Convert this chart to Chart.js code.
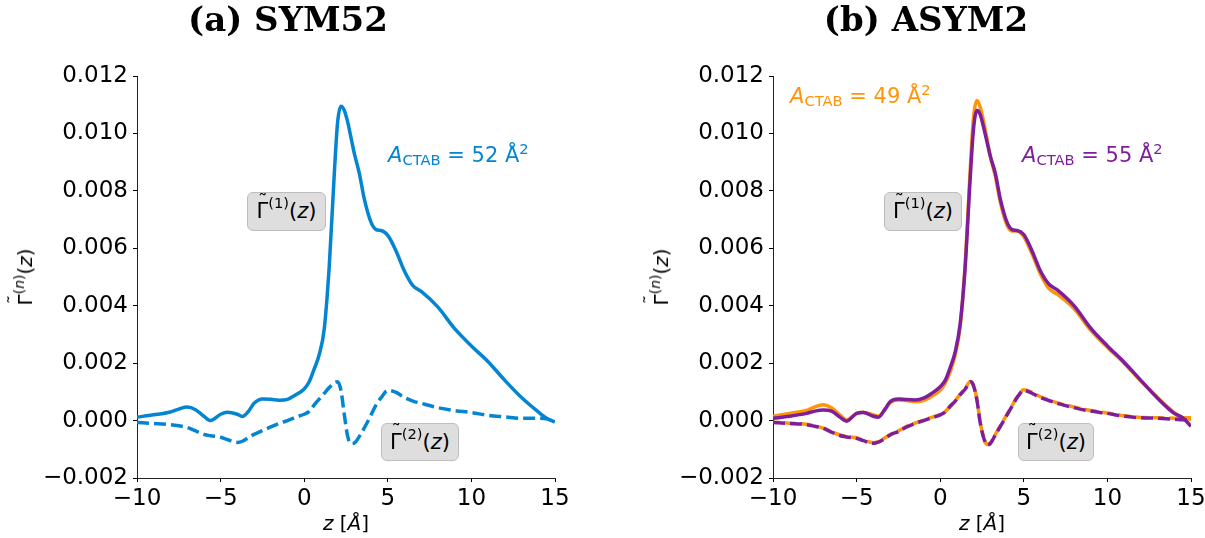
<!DOCTYPE html>
<html>
<head>
<meta charset="utf-8">
<script src="https://cdn.jsdelivr.net/npm/chart.js@4"></script>
<style>
  html, body { margin:0; padding:0; width:1205px; height:538px; overflow:hidden; background:#fff; }
  body { position:relative; font-family:"DejaVu Sans", sans-serif; color:#000; }
  .cv { position:absolute; top:0; }
  .txt { position:absolute; white-space:nowrap; line-height:1; font-family:"DejaVu Sans", sans-serif; }
  .title { position:absolute; top:2px; width:400px; text-align:center; font-family:"DejaVu Serif", serif; font-weight:bold; font-size:34px; line-height:1; }
  .box { position:absolute; box-sizing:border-box; background:#dedede; border:1px solid #bdbdbd; border-radius:6px;
         display:flex; align-items:center; justify-content:center; font-size:21px; line-height:1; white-space:nowrap; }
  .sp { font-size:0.7em; position:relative; top:-0.55em; line-height:0; }
  .sb { font-size:0.7em; position:relative; top:0.2em; line-height:0; }
  .gam { position:relative; display:inline-block; }
  .tl { position:absolute; left:0.08em; top:-0.5em; font-size:0.9em; line-height:1; }
  .ylab { position:absolute; font-size:20px; line-height:1; white-space:nowrap; transform:translate(-50%,-50%) rotate(-90deg); }
  .xlab { position:absolute; font-size:20px; line-height:1; white-space:nowrap; transform:translate(-50%,-50%); }
</style>
</head>
<body>
<canvas id="cA" class="cv" width="602" height="538" style="left:0px;width:602px;height:538px"></canvas>
<canvas id="cB" class="cv" width="640" height="538" style="left:602px;width:640px;height:538px"></canvas>

<div class="title" style="left:88px">(a) SYM52</div>
<div class="title" style="left:726px">(b) ASYM2</div>

<div class="ylab" style="left:25px;top:277px"><span class="gam">Γ<span class="tl">˜</span></span><span class="sp">(<i>n</i>)</span>(<i>z</i>)</div>
<div class="ylab" style="left:661px;top:277px"><span class="gam">Γ<span class="tl">˜</span></span><span class="sp">(<i>n</i>)</span>(<i>z</i>)</div>
<div class="xlab" style="left:346px;top:523px"><i>z</i> [<i>Å</i>]</div>
<div class="xlab" style="left:982px;top:523px"><i>z</i> [<i>Å</i>]</div>

<div class="txt" style="left:388px;top:145px;font-size:21px;color:#0485d1"><i>A</i><span class="sb">CTAB</span> = 52 Å<span class="sp">2</span></div>
<div class="txt" style="left:790px;top:86px;font-size:21px;color:#ff9408"><i>A</i><span class="sb">CTAB</span> = 49 Å<span class="sp">2</span></div>
<div class="txt" style="left:1022px;top:145px;font-size:21px;color:#7e1e9c"><i>A</i><span class="sb">CTAB</span> = 55 Å<span class="sp">2</span></div>

<div class="box" style="left:247px;top:192px;width:79px;height:39px"><span class="gam">Γ<span class="tl">˜</span></span><span class="sp">(1)</span>(<i>z</i>)</div>
<div class="box" style="left:381px;top:423px;width:78px;height:38px"><span class="gam">Γ<span class="tl">˜</span></span><span class="sp">(2)</span>(<i>z</i>)</div>
<div class="box" style="left:884px;top:192px;width:78px;height:39px"><span class="gam">Γ<span class="tl">˜</span></span><span class="sp">(1)</span>(<i>z</i>)</div>
<div class="box" style="left:1018px;top:423px;width:76px;height:38px"><span class="gam">Γ<span class="tl">˜</span></span><span class="sp">(2)</span>(<i>z</i>)</div>

<script>
// ---------- data ----------
const zGrid = [-10,-9,-8,-7.5,-7,-6.5,-6,-5.6,-5,-4.6,-4,-3.7,-3.3,-3,-2.5,-2,-1.5,-1,-0.5,0,
  0.3,0.6,0.9,1.2,1.5,1.8,2.0,2.2,2.4,2.6,2.8,3.0,3.3,3.6,4.0,4.3,4.6,5.0,5.5,6.0,6.5,7,8,9,10,11,12,13,14,14.5,15];

const sym52Gamma1 = [0.00012,0.00020,0.00030,0.00040,0.00047,0.00038,0.00015,0.00000,0.00022,0.00029,0.00022,0.00014,0.00035,0.00060,0.00075,0.00074,0.00071,0.00074,0.00090,0.00110,
  0.00135,0.00180,0.00230,0.00320,0.00540,0.00860,0.01040,0.01095,0.01080,0.01040,0.00985,0.00930,0.00860,0.00770,0.00690,0.00665,0.00662,0.00645,0.00590,0.00520,0.00470,0.00450,0.00395,0.00320,0.00260,0.00205,0.00140,0.00080,0.00030,0.00008,-0.00005];

const sym52Gamma2 = [-0.00007,-0.00010,-0.00014,-0.00018,-0.00024,-0.00036,-0.00048,-0.00053,-0.00058,-0.00066,-0.00076,-0.00072,-0.00058,-0.00048,-0.00035,-0.00022,-0.00010,0.00000,0.00012,0.00022,
  0.00032,0.00055,0.00075,0.00095,0.00115,0.00132,0.00135,0.00105,0.00020,-0.00055,-0.00080,-0.00078,-0.00055,-0.00025,0.00020,0.00055,0.00080,0.00105,0.00098,0.00080,0.00068,0.00060,0.00045,0.00035,0.00028,0.00018,0.00013,0.00008,0.00008,0.00006,-0.00005];

const asym2Gamma1A49 = [0.00015,0.00025,0.00035,0.00048,0.00055,0.00045,0.00020,0.00002,0.00025,0.00029,0.00020,0.00015,0.00038,0.00062,0.00072,0.00070,0.00066,0.00070,0.00085,0.00105,
  0.00130,0.00170,0.00230,0.00330,0.00550,0.00880,0.01060,0.01115,0.01090,0.01040,0.00980,0.00920,0.00850,0.00760,0.00680,0.00660,0.00660,0.00640,0.00580,0.00510,0.00460,0.00440,0.00390,0.00315,0.00255,0.00200,0.00138,0.00080,0.00028,0.00010,0.00010];

const asym2Gamma2A49 = [-0.00006,-0.00009,-0.00013,-0.00019,-0.00026,-0.00039,-0.00050,-0.00055,-0.00060,-0.00068,-0.00077,-0.00073,-0.00060,-0.00049,-0.00036,-0.00020,-0.00009,0.00001,0.00011,0.00021,
  0.00031,0.00051,0.00070,0.00092,0.00112,0.00136,0.00122,0.00072,-0.00008,-0.00058,-0.00083,-0.00078,-0.00048,-0.00018,0.00022,0.00052,0.00082,0.00107,0.00098,0.00083,0.00072,0.00062,0.00047,0.00035,0.00026,0.00017,0.00011,0.00010,0.00008,0.00006,0.00005];

const asym2Gamma1A55 = [0.00008,0.00015,0.00025,0.00033,0.00037,0.00033,0.00012,-0.00002,0.00025,0.00028,0.00015,0.00012,0.00040,0.00065,0.00075,0.00073,0.00072,0.00078,0.00095,0.00118,
  0.00140,0.00185,0.00240,0.00340,0.00540,0.00850,0.01020,0.01080,0.01065,0.01020,0.00970,0.00920,0.00860,0.00770,0.00690,0.00665,0.00662,0.00648,0.00590,0.00520,0.00475,0.00455,0.00400,0.00322,0.00260,0.00203,0.00140,0.00078,0.00025,0.00010,-0.00020];

const asym2Gamma2A55 = [-0.00007,-0.00010,-0.00014,-0.00020,-0.00027,-0.00040,-0.00052,-0.00057,-0.00062,-0.00070,-0.00079,-0.00075,-0.00062,-0.00050,-0.00038,-0.00022,-0.00010,0.00000,0.00010,0.00020,
  0.00030,0.00050,0.00068,0.00090,0.00110,0.00135,0.00120,0.00070,-0.00010,-0.00060,-0.00085,-0.00080,-0.00050,-0.00020,0.00020,0.00050,0.00080,0.00105,0.00095,0.00080,0.00070,0.00060,0.00045,0.00033,0.00025,0.00015,0.00010,0.00008,0.00005,0.00003,0.00002];

const xTickValues = [-10,-5,0,5,10,15];
const yTickValues = [-0.002,0.000,0.002,0.004,0.006,0.008,0.010,0.012];

// ---------- helpers ----------
const BLUE = '#0485d1', ORANGE = '#ff9408', PURPLE = '#7e1e9c';
const pts = arr => zGrid.map((z,i) => ({x:z, y:arr[i]}));
const minus = s => s.replace('-', '\u2212');

function ds(arr, color, dashed, order, offset){
  return {
    data: pts(arr), borderColor: color, borderWidth: 3.5,
    borderDash: dashed ? [12,5] : [], borderDashOffset: offset || 0,
    pointRadius: 0, fill: false, cubicInterpolationMode: 'monotone',
    borderCapStyle: 'butt', borderJoinStyle: 'round', order: order
  };
}

function makeChart(id, datasets, yAxisWidth, rightPad){
  const tickFont = {family:'DejaVu Sans', size:23};
  return new Chart(document.getElementById(id), {
    type: 'line',
    data: { datasets },
    options: {
      responsive:false, animation:false, devicePixelRatio:1,
      layout: { padding: {top:76, right:rightPad, bottom:0, left:0} },
      plugins: { legend:{display:false}, tooltip:{enabled:false}, title:{display:false} },
      scales: {
        x: {
          type:'linear', min:-10, max:15,
          afterBuildTicks: s => { s.ticks = xTickValues.map(v => ({value:v})); },
          afterFit: s => { s.height = 60; },
          ticks: { font: tickFont, color:'#000', padding:3, maxRotation:0, autoSkip:false,
                   callback: v => minus(String(v)) },
          grid: { drawOnChartArea:false, drawTicks:true, tickLength:4, color:'#000', lineWidth:1 },
          border: { display:true, color:'#222', width:1 }
        },
        y: {
          type:'linear', min:-0.002, max:0.012,
          afterBuildTicks: s => { s.ticks = yTickValues.map(v => ({value:v})); },
          afterFit: s => { s.width = yAxisWidth; },
          ticks: { font: tickFont, color:'#000', padding:5, autoSkip:false,
                   callback: v => minus((Math.abs(v) < 1e-9 ? 0 : v).toFixed(3)) },
          grid: { drawOnChartArea:false, drawTicks:true, tickLength:4, color:'#000', lineWidth:1 },
          border: { display:true, color:'#222', width:1 }
        }
      }
    }
  });
}

// lower "order" is drawn on top
makeChart('cA', [ ds(sym52Gamma1, BLUE, false, 0), ds(sym52Gamma2, BLUE, true, 1) ], 137, 47);
makeChart('cB', [
  ds(asym2Gamma1A49, ORANGE, false, 3), ds(asym2Gamma2A49, ORANGE, true, 2, 6),
  ds(asym2Gamma1A55, PURPLE, false, 1), ds(asym2Gamma2A55, PURPLE, true, 0)
], 171, 51);
</script>
</body>
</html>
